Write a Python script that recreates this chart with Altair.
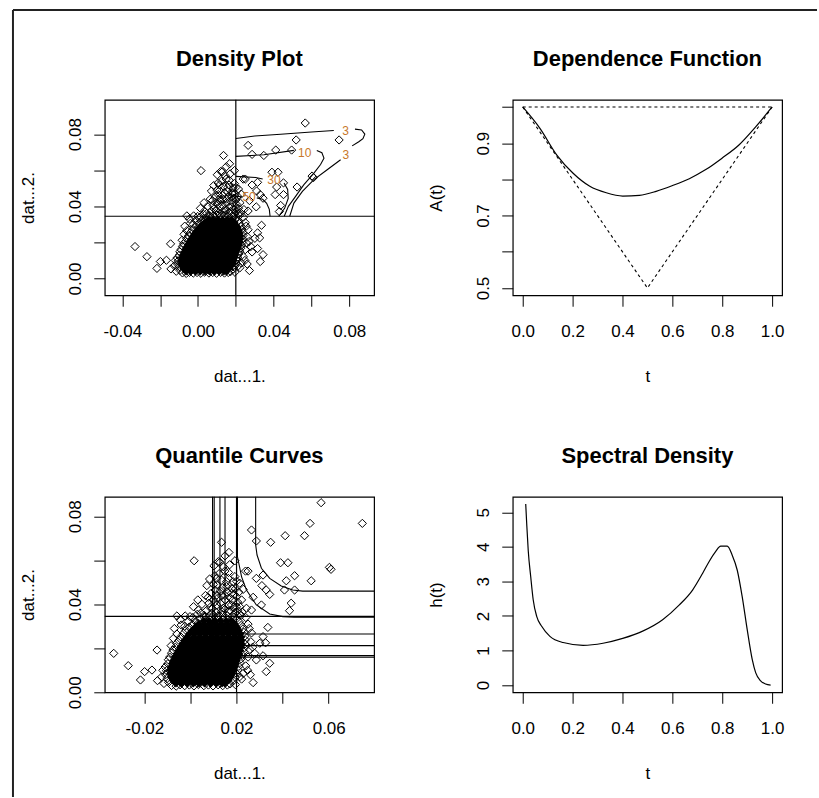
import altair as alt
import pandas as pd

FONT = "Liberation Sans"
W, H = 270, 196

# ---------------- data ----------------
# scattered observations (open diamonds)
scatter_pts = [
    (0.0567, 0.0862), (0.0746, 0.0768), (0.0519, 0.0768), (0.0495, 0.0712), (0.0411, 0.0712),
    (0.0265, 0.0738), (0.0286, 0.0688), (0.0348, 0.0682), (0.0135, 0.0682), (0.0167, 0.0636),
    (0.0016, 0.0598), (0.0128, 0.0591), (0.0193, 0.0598), (0.0391, 0.0589), (0.0423, 0.0589),
    (0.0603, 0.0568), (0.0610, 0.0559), (0.0239, 0.0551), (0.0250, 0.0551), (0.0149, 0.0551),
    (0.0106, 0.0530), (0.0286, 0.0518), (0.0315, 0.0533), (0.0452, 0.0530), (0.0416, 0.0507),
    (0.0524, 0.0507), (0.0071, 0.0485), (0.0157, 0.0503), (0.0178, 0.0473), (0.0229, 0.0468),
    (0.0310, 0.0485), (0.0329, 0.0465), (0.0344, 0.0445), (0.0408, 0.0465), (0.0452, 0.0465),
    (0.0437, 0.0405), (0.0430, 0.0371), (0.0032, 0.0420), (0.0077, 0.0432), (0.0114, 0.0442),
    (0.0135, 0.0438), (0.0272, 0.0432), (0.0308, 0.0397), (0.0013, 0.0389), (0.0034, 0.0374),
    (0.0085, 0.0386), (0.0214, 0.0389), (0.0243, 0.0382), (0.0265, 0.0374), (-0.0059, 0.0347),
    (-0.0023, 0.0347), (-0.0002, 0.0344), (-0.0040, 0.0306), (0.0034, 0.0314), (0.0336, 0.0295),
    (-0.0059, 0.0265), (-0.0074, 0.0245), (-0.0084, 0.0212), (0.0315, 0.0253), (0.0301, 0.0223),
    (0.0326, 0.0225), (-0.0145, 0.0192), (-0.0333, 0.0177), (-0.0270, 0.0121), (-0.0199, 0.0094),
    (-0.0167, 0.0101), (-0.0217, 0.0056), (-0.0143, 0.0053), (0.0272, 0.0044), (0.0279, 0.0177),
    (0.0286, 0.0147), (0.0315, 0.0166), (0.0344, 0.0132), (0.0329, 0.0094), (0.0229, 0.0086),
    (0.0214, 0.0071),
    (0.0114, 0.0518), (0.0135, 0.0510), (0.0164, 0.0518), (0.0185, 0.0503), (0.0157, 0.0480),
    (0.0178, 0.0450), (0.0200, 0.0435), (0.0107, 0.0465), (0.0150, 0.0420), (0.0178, 0.0397),
    (0.0200, 0.0389), (0.0114, 0.0397), (0.0142, 0.0382), (0.0164, 0.0366), (0.0193, 0.0359),
    (0.0121, 0.0594), (0.0142, 0.0571), (0.0193, 0.0526), (0.0214, 0.0496), (0.0222, 0.0420),
    (0.0114, 0.0488), (0.0099, 0.0420), (0.0171, 0.0430), (0.0092, 0.0360), (0.0060, 0.0350),
    (0.0125, 0.0350), (0.0180, 0.0345), (0.0220, 0.0350), (0.0240, 0.0340), (0.0225, 0.0365),
    (0.0050, 0.0400), (0.0160, 0.0455), (0.0130, 0.0460), (0.0195, 0.0470), (0.0090, 0.0450),
    (0.0045, 0.0360), (0.0070, 0.0372), (0.0095, 0.0380), (0.0110, 0.0365), (0.0135, 0.0368),
    (0.0150, 0.0378), (0.0172, 0.0372), (0.0188, 0.0385), (0.0205, 0.0372), (0.0212, 0.0355),
    (0.0165, 0.0395), (0.0130, 0.0405), (0.0105, 0.0410), (0.0080, 0.0405), (0.0150, 0.0440),
    (0.0185, 0.0420), (0.0205, 0.0410), (0.0118, 0.0428), (0.0065, 0.0440), (0.0190, 0.0445),
    (0.0210, 0.0455), (0.0140, 0.0475), (0.0100, 0.0490), (0.0125, 0.0540), (0.0165, 0.0545),
    (0.0182, 0.0470), (0.0083, 0.0515), (0.0200, 0.0505), (0.0170, 0.0580), (0.0102, 0.0575),
    (0.0150, 0.0620),
    (-0.0045, 0.0330), (-0.0010, 0.0322), (-0.0070, 0.0290), (-0.0025, 0.0300), (0.0010, 0.0340),
    (0.0030, 0.0355), (0.0250, 0.0310), (0.0265, 0.0270), (0.0270, 0.0205), (0.0258, 0.0195),
    (0.0248, 0.0100), (0.0260, 0.0080),
]

# observations on the rim of the dense cloud (open diamonds)
edge_pts = [
    (-0.0082, 0.0031), (-0.0062, 0.0028), (-0.0045, 0.0034), (-0.0025, 0.0030), (-0.0005, 0.0033),
    (0.0015, 0.0029), (0.0035, 0.0035), (0.0058, 0.0030), (0.0078, 0.0033), (0.0098, 0.0029),
    (0.0120, 0.0034), (0.0140, 0.0030), (0.0160, 0.0033),
    (-0.0095, 0.0045), (-0.0102, 0.0062), (-0.0108, 0.0080), (-0.0104, 0.0098), (-0.0110, 0.0115),
    (-0.0098, 0.0130), (-0.0096, 0.0148), (-0.0090, 0.0160), (-0.0082, 0.0178), (-0.0076, 0.0192),
    (-0.0066, 0.0205), (-0.0060, 0.0222), (-0.0050, 0.0236), (-0.0042, 0.0252), (-0.0030, 0.0268),
    (-0.0020, 0.0282), (-0.0006, 0.0296), (0.0008, 0.0308), (0.0022, 0.0322), (0.0040, 0.0334),
    (0.0058, 0.0342),
    (0.0172, 0.0038), (0.0186, 0.0052), (0.0194, 0.0068), (0.0200, 0.0085), (0.0206, 0.0102),
    (0.0210, 0.0118), (0.0215, 0.0135), (0.0220, 0.0152), (0.0226, 0.0168), (0.0230, 0.0185),
    (0.0234, 0.0202), (0.0237, 0.0220), (0.0238, 0.0238), (0.0236, 0.0255), (0.0232, 0.0272),
    (0.0228, 0.0288), (0.0220, 0.0304), (0.0212, 0.0320), (0.0200, 0.0334), (0.0188, 0.0343),
    (0.0080, 0.0345), (0.0100, 0.0350), (0.0120, 0.0346), (0.0140, 0.0352), (0.0160, 0.0348),
    (-0.0120, 0.0100), (-0.0125, 0.0070), (-0.0115, 0.0040), (0.0255, 0.0290), (0.0262, 0.0230),
    (0.0250, 0.0160), (0.0240, 0.0120), (0.0222, 0.0060), (0.0195, 0.0035),
]

# the dense core of the cloud: (y, [x values])
core_rows = [
    (0.0040, [-0.0063, -0.0040, -0.0014, 0.0012, 0.0037, 0.0061, 0.0088, 0.0112, 0.0137, 0.0150]),
    (0.0055, [-0.0077, -0.0052, -0.0026, 0.0000, 0.0024, 0.0050, 0.0075, 0.0099, 0.0125, 0.0150, 0.0165]),
    (0.0070, [-0.0085, -0.0062, -0.0038, -0.0013, 0.0012, 0.0038, 0.0063, 0.0087, 0.0112, 0.0137, 0.0162, 0.0175]),
    (0.0085, [-0.0088, -0.0075, -0.0050, -0.0025, 0.0000, 0.0025, 0.0050, 0.0075, 0.0100, 0.0125, 0.0150, 0.0172, 0.0182]),
    (0.0100, [-0.0088, -0.0062, -0.0037, -0.0012, 0.0013, 0.0038, 0.0063, 0.0088, 0.0113, 0.0138, 0.0163, 0.0188]),
    (0.0115, [-0.0085, -0.0075, -0.0050, -0.0025, 0.0000, 0.0025, 0.0050, 0.0075, 0.0100, 0.0125, 0.0150, 0.0175, 0.0192]),
    (0.0130, [-0.0080, -0.0062, -0.0037, -0.0012, 0.0013, 0.0038, 0.0063, 0.0088, 0.0113, 0.0138, 0.0163, 0.0188, 0.0197]),
    (0.0145, [-0.0074, -0.0050, -0.0025, 0.0000, 0.0025, 0.0050, 0.0075, 0.0100, 0.0125, 0.0150, 0.0175, 0.0200]),
    (0.0160, [-0.0068, -0.0062, -0.0037, -0.0012, 0.0013, 0.0038, 0.0063, 0.0088, 0.0113, 0.0138, 0.0163, 0.0188, 0.0207]),
    (0.0175, [-0.0060, -0.0050, -0.0025, 0.0000, 0.0025, 0.0050, 0.0075, 0.0100, 0.0125, 0.0150, 0.0175, 0.0200, 0.0212]),
    (0.0190, [-0.0052, -0.0037, -0.0012, 0.0013, 0.0038, 0.0063, 0.0088, 0.0113, 0.0138, 0.0163, 0.0188, 0.0212, 0.0216]),
    (0.0205, [-0.0043, -0.0025, 0.0000, 0.0025, 0.0050, 0.0075, 0.0100, 0.0125, 0.0150, 0.0175, 0.0200, 0.0220]),
    (0.0220, [-0.0035, -0.0012, 0.0013, 0.0038, 0.0063, 0.0088, 0.0113, 0.0138, 0.0163, 0.0188, 0.0212, 0.0222]),
    (0.0235, [-0.0026, 0.0000, 0.0025, 0.0050, 0.0075, 0.0100, 0.0125, 0.0150, 0.0175, 0.0200, 0.0222]),
    (0.0250, [-0.0016, 0.0013, 0.0038, 0.0063, 0.0088, 0.0113, 0.0138, 0.0163, 0.0188, 0.0212, 0.0220]),
    (0.0265, [-0.0006, 0.0018, 0.0043, 0.0068, 0.0093, 0.0118, 0.0143, 0.0168, 0.0193, 0.0216]),
    (0.0280, [0.0006, 0.0030, 0.0055, 0.0080, 0.0105, 0.0130, 0.0155, 0.0180, 0.0205, 0.0210]),
    (0.0295, [0.0020, 0.0043, 0.0068, 0.0093, 0.0118, 0.0143, 0.0168, 0.0193, 0.0202]),
    (0.0310, [0.0036, 0.0060, 0.0085, 0.0110, 0.0135, 0.0160, 0.0185, 0.0192]),
    (0.0325, [0.0058, 0.0080, 0.0105, 0.0130, 0.0155, 0.0178]),
]

# marginal thresholds
thr_x = 0.02
thr_y = 0.0345

# density contours (pieces between inline labels)
contour_segs = [
    ("3a", [(0.0200, 0.0776), (0.0300, 0.0790), (0.0437, 0.0800), (0.0600, 0.0812), (0.0718, 0.0820)]),
    ("3b", [(0.0830, 0.0828), (0.0865, 0.0823), (0.0882, 0.0800), (0.0872, 0.0775), (0.0850, 0.0758), (0.0815, 0.0735)]),
    ("3c", [(0.0754, 0.0658), (0.0683, 0.0603), (0.0613, 0.0548), (0.0552, 0.0483), (0.0507, 0.0418), (0.0485, 0.0345)]),
    ("10a", [(0.0200, 0.0677), (0.0349, 0.0686), (0.0507, 0.0710)]),
    ("10b", [(0.0628, 0.0710), (0.0655, 0.0697), (0.0666, 0.0667), (0.0648, 0.0632), (0.0613, 0.0584),
             (0.0560, 0.0520), (0.0516, 0.0455), (0.0478, 0.0400), (0.0456, 0.0345)]),
    ("30a", [(0.0200, 0.0566), (0.0305, 0.0560), (0.0342, 0.0552)]),
    ("30b", [(0.0455, 0.0529), (0.0474, 0.0494), (0.0477, 0.0444), (0.0458, 0.0389), (0.0427, 0.0345)]),
    ("50a", [(0.0200, 0.0455), (0.0232, 0.0453)]),
    ("50b", [(0.0311, 0.0447), (0.0342, 0.0439), (0.0363, 0.0417), (0.0377, 0.0383), (0.0381, 0.0345)]),
]
contour_labels = [("3", 0.0780, 0.0818), ("3", 0.0782, 0.0684), ("10", 0.0564, 0.0697),
                  ("30", 0.0402, 0.0544), ("50", 0.0270, 0.0450)]

# quantile curves
quantile_curves = [
    [(0.0283, 0.095), (0.0283, 0.0670), (0.0289, 0.0624), (0.0308, 0.0564), (0.0344, 0.0518),
     (0.0394, 0.0483), (0.0444, 0.0465), (0.0487, 0.0460), (0.085, 0.0460)],
    [(0.0204, 0.095), (0.0204, 0.0616), (0.0222, 0.0525), (0.0243, 0.0465), (0.0286, 0.0397),
     (0.0344, 0.0356), (0.0401, 0.0344), (0.0450, 0.0341), (0.085, 0.0341)],
    [(0.0150, 0.095), (0.0150, 0.0360), (0.0160, 0.0300), (0.0190, 0.0272), (0.0240, 0.0265), (0.085, 0.0265)],
    [(0.0128, 0.095), (0.0128, 0.0300), (0.0140, 0.0250), (0.0170, 0.0220), (0.0220, 0.0212), (0.085, 0.0212)],
    [(0.0103, 0.095), (0.0103, 0.0260), (0.0115, 0.0210), (0.0150, 0.0175), (0.0200, 0.0167), (0.085, 0.0167)],
    [(0.0096, 0.095), (0.0096, 0.0240), (0.0110, 0.0195), (0.0140, 0.0168), (0.0190, 0.0160), (0.085, 0.0160)],
]

# dependence function
dep_t = [0.0, 0.069, 0.136, 0.202, 0.269, 0.335, 0.401, 0.468, 0.535, 0.601, 0.668, 0.734, 0.800, 0.867, 0.934, 1.0]
dep_A = [1.0, 0.941, 0.868, 0.817, 0.781, 0.763, 0.754, 0.756, 0.767, 0.783, 0.802, 0.827, 0.859, 0.895, 0.945, 1.0]
bound_top_t = [0.0, 1.0]
bound_top_A = [1.0, 1.0]
bound_v_t = [0.0, 0.5, 1.0]
bound_v_A = [1.0, 0.5, 1.0]

# spectral density
spec_t = [0.012, 0.016, 0.022, 0.032, 0.042, 0.056, 0.076, 0.109, 0.162, 0.242, 0.322, 0.401, 0.481,
          0.561, 0.628, 0.681, 0.721, 0.747, 0.774, 0.794, 0.820, 0.840, 0.860, 0.880, 0.900, 0.920,
          0.934, 0.954, 0.974, 0.994]
spec_h = [5.24, 4.67, 3.90, 3.14, 2.47, 1.99, 1.70, 1.41, 1.23, 1.15, 1.21, 1.35, 1.56,
          1.89, 2.32, 2.75, 3.23, 3.57, 3.87, 4.02, 4.02, 3.76, 3.33, 2.56, 1.61, 0.75,
          0.36, 0.12, 0.03, 0.0]

# panel titles
titles = ["Density Plot", "Dependence Function", "Quantile Curves", "Spectral Density"]

# axis ticks / labels
p1_xt = [-0.04, -0.02, 0.0, 0.02, 0.04, 0.06, 0.08]
p1_xl = ["-0.04", "", "0.00", "", "0.04", "", "0.08"]
p1_yt = [0.0, 0.02, 0.04, 0.06, 0.08]
p1_yl = ["0.00", "", "0.04", "", "0.08"]
p3_xt = [-0.02, 0.0, 0.02, 0.04, 0.06]
p3_xl = ["-0.02", "", "0.02", "", "0.06"]
t_ticks = [0.0, 0.2, 0.4, 0.6, 0.8, 1.0]
t_labels = ["0.0", "0.2", "0.4", "0.6", "0.8", "1.0"]
a_ticks = [0.5, 0.6, 0.7, 0.8, 0.9, 1.0]
a_labels = ["0.5", "", "0.7", "", "0.9", ""]
h_ticks = [0, 1, 2, 3, 4, 5]
h_labels = ["0", "1", "2", "3", "4", "5"]

# ---------------- helpers ----------------
def lab_expr(vals, labels):
    expr = "''"
    for v, l in zip(vals, labels):
        expr = f"abs(datum.value - ({v})) < 1e-9 ? '{l}' : ({expr})"
    return expr

common_axis = dict(domain=False, grid=False, ticks=True, tickSize=11, tickColor="black", tickWidth=1,
                   labelFont=FONT, labelFontSize=17, labelColor="black", labelOverlap=False,
                   labelFlush=False, titleFont=FONT, titleFontSize=17, titleFontWeight="normal",
                   titleColor="black")

def xaxis(vals, labels, title):
    return alt.Axis(values=vals, labelExpr=lab_expr(vals, labels), title=title, orient="bottom",
                    labelBaseline="alphabetic", labelPadding=30, titleX=W / 2, titleY=86,
                    titleAlign="center", titleBaseline="alphabetic", **common_axis)

def yaxis(vals, labels, title):
    return alt.Axis(values=vals, labelExpr=lab_expr(vals, labels), title=title, orient="left",
                    labelAngle=270, labelAlign="center", labelBaseline="alphabetic", labelPadding=13,
                    titleAngle=270, titleX=-71, titleY=H / 2, titleAlign="center",
                    titleBaseline="alphabetic", **common_axis)

one_df = pd.DataFrame({"a": [0]})

def title_mark(text):
    return alt.Chart(one_df).mark_text(text=text, font=FONT, fontSize=22, fontWeight="bold", color="black",
                                       align="center", baseline="alphabetic").encode(
        x=alt.value(W / 2), y=alt.value(-34))

pts_df = pd.DataFrame(scatter_pts + edge_pts, columns=["x", "y"])
core_df = pd.DataFrame([(x, y) for y, xs in core_rows for x in xs], columns=["x", "y"])

seg_rows = []
for name, pts in contour_segs:
    for i, (x, y) in enumerate(pts):
        seg_rows.append({"seg": name, "o": i, "x": x, "y": y})
cont_df = pd.DataFrame(seg_rows)
clab_df = pd.DataFrame(contour_labels, columns=["lab", "x", "y"])

q_rows = []
for k, pts in enumerate(quantile_curves):
    for i, (x, y) in enumerate(pts):
        q_rows.append({"seg": k, "o": i, "x": x, "y": y})
q_df = pd.DataFrame(q_rows)

vline_df = pd.DataFrame({"x": [thr_x]})
hline_df = pd.DataFrame({"y": [thr_y]})

SYM = 68


def scatter_panel(xdom, ydom, xt, xl, yt, yl):
    ex = alt.X("x:Q", scale=alt.Scale(domain=xdom, nice=False, zero=False), axis=xaxis(xt, xl, "dat...1."))
    ey = alt.Y("y:Q", scale=alt.Scale(domain=ydom, nice=False, zero=False), axis=yaxis(yt, yl, "dat...2."))
    open_pts = alt.Chart(pts_df).mark_point(shape="diamond", filled=False, size=SYM, strokeWidth=1,
                                            color="black", opacity=1).encode(x=ex, y=ey)
    core_pts = alt.Chart(core_df).mark_point(shape="diamond", filled=True, size=SYM, strokeWidth=1,
                                             color="black", opacity=1).encode(x=ex, y=ey)
    vl = alt.Chart(vline_df).mark_rule(color="black", strokeWidth=1.2).encode(x=ex)
    hl = alt.Chart(hline_df).mark_rule(color="black", strokeWidth=1.2).encode(y=ey)
    return [core_pts, open_pts, vl, hl], ex, ey


# Panel 1: density plot
l1, ex1, ey1 = scatter_panel([-0.0493, 0.0931], [-0.0093, 0.0991], p1_xt, p1_xl, p1_yt, p1_yl)
cont = alt.Chart(cont_df).mark_line(color="black", strokeWidth=1.1).encode(
    x=ex1, y=ey1, detail="seg:N", order="o:Q")
clab = alt.Chart(clab_df).mark_text(font=FONT, fontSize=12, color="#c8782a").encode(
    x=ex1, y=ey1, text="lab:N")
frame_top = alt.Chart(one_df).mark_rule(color="#222222", strokeWidth=2).encode(
    x=alt.value(-92), x2=alt.value(714), y=alt.value(-90))
frame_left = alt.Chart(one_df).mark_rule(color="#222222", strokeWidth=2).encode(
    x=alt.value(-92), y=alt.value(-90), y2=alt.value(699))
p1 = alt.layer(*l1, cont, clab, title_mark(titles[0]), frame_top, frame_left).properties(width=W, height=H)

# Panel 3: quantile curves
l3, ex3, ey3 = scatter_panel([-0.0372, 0.0797], [0.0, 0.0889], p3_xt, p3_xl, p1_yt, p1_yl)
qc = alt.Chart(q_df).mark_line(color="black", strokeWidth=1.1, clip=True).encode(
    x=ex3, y=ey3, detail="seg:N", order="o:Q")
p3 = alt.layer(*l3, qc, title_mark(titles[2])).properties(width=W, height=H)

# Panel 2: dependence function
ex2 = alt.X("t:Q", scale=alt.Scale(domain=[-0.04, 1.04], nice=False, zero=False), axis=xaxis(t_ticks, t_labels, "t"))
ey2 = alt.Y("A:Q", scale=alt.Scale(domain=[0.48, 1.02], nice=False, zero=False), axis=yaxis(a_ticks, a_labels, "A(t)"))
dep_df = pd.DataFrame({"t": dep_t, "A": dep_A})
bnd_df = pd.concat([
    pd.DataFrame({"t": bound_top_t, "A": bound_top_A, "seg": "top", "o": range(len(bound_top_t))}),
    pd.DataFrame({"t": bound_v_t, "A": bound_v_A, "seg": "v", "o": range(len(bound_v_t))}),
])
dep_line = alt.Chart(dep_df).mark_line(color="black", strokeWidth=1.2, interpolate="monotone").encode(x=ex2, y=ey2)
bnd_line = alt.Chart(bnd_df).mark_line(color="black", strokeWidth=1.1, strokeDash=[3, 3]).encode(
    x=ex2, y=ey2, detail="seg:N", order="o:Q")
p2 = alt.layer(bnd_line, dep_line, title_mark(titles[1])).properties(width=W, height=H)

# Panel 4: spectral density
ex4 = alt.X("t:Q", scale=alt.Scale(domain=[-0.04, 1.04], nice=False, zero=False), axis=xaxis(t_ticks, t_labels, "t"))
ey4 = alt.Y("h:Q", scale=alt.Scale(domain=[-0.21, 5.45], nice=False, zero=False), axis=yaxis(h_ticks, h_labels, "h(t)"))
spec_df = pd.DataFrame({"t": spec_t, "h": spec_h})
spec_line = alt.Chart(spec_df).mark_line(color="black", strokeWidth=1.2, interpolate="monotone").encode(x=ex4, y=ey4)
p4 = alt.layer(spec_line, title_mark(titles[3])).properties(width=W, height=H)

chart = alt.concat(p1, p2, p3, p4, columns=2, spacing={"row": 202, "column": 139}, bounds="flush").properties(
    padding={"left": 11, "top": 7, "right": 0, "bottom": 0},
    background="white",
).configure_view(stroke="black", strokeWidth=1.2, fill=None)

chart.save("out.html", embed_options={"renderer": "svg", "actions": False})
